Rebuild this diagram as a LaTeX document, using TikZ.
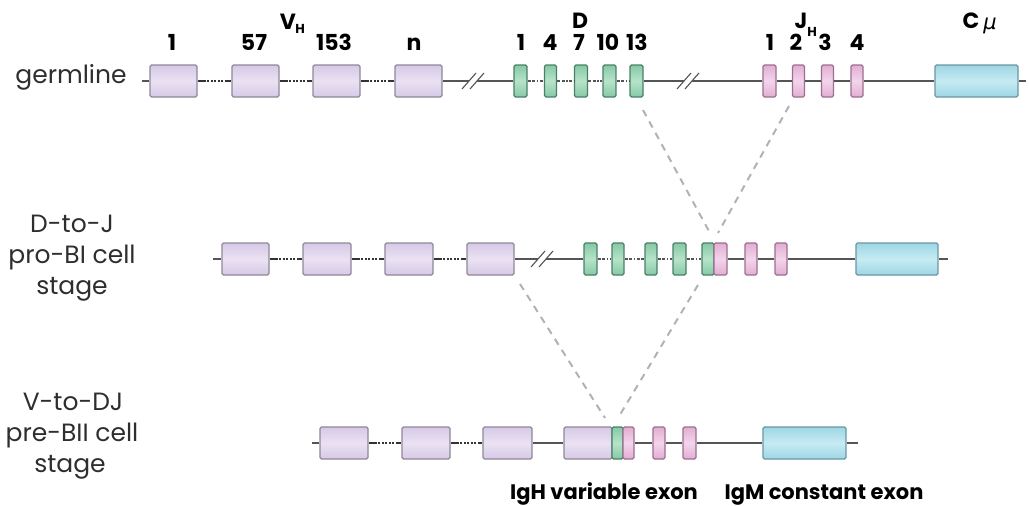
\documentclass[tikz,border=0pt]{standalone}
\usepackage{fontspec}
\setmainfont{Poppins}
\newfontfamily\dejavu{DejaVu Sans}
\usetikzlibrary{calc}
\definecolor{lavF}{HTML}{D6C9E6}\definecolor{lavM}{HTML}{EAE2F3}\definecolor{lavB}{HTML}{8F8799}
\definecolor{grnF}{HTML}{86C9A6}\definecolor{grnM}{HTML}{B6E3C9}\definecolor{grnB}{HTML}{4A7F68}
\definecolor{pnkF}{HTML}{E2AED3}\definecolor{pnkM}{HTML}{F3D4EA}\definecolor{pnkB}{HTML}{9B6F90}
\definecolor{bluF}{HTML}{9ED6E4}\definecolor{bluM}{HTML}{C6EBF3}\definecolor{bluB}{HTML}{6A97A3}
\definecolor{bbc}{HTML}{555555}
\definecolor{txt}{HTML}{2E2E2E}
\tikzset{
  gene/.style={rectangle, rounded corners=1.5pt, line width=1.1pt, inner sep=0pt, minimum height=32pt},
  vseg/.style={gene, draw=lavB, top color=lavF, bottom color=lavF, middle color=lavM},
  dseg/.style={gene, draw=grnB, top color=grnF, bottom color=grnF, middle color=grnM},
  jseg/.style={gene, draw=pnkB, top color=pnkF, bottom color=pnkF, middle color=pnkM},
  cseg/.style={gene, draw=bluB, top color=bluF, bottom color=bluF, middle color=bluM},
  bb/.style={draw=bbc, line width=1.1pt},
  vgap/.style={draw=black!80, line width=1.3pt, dash pattern=on 8pt off 1.5pt on 2pt off 1.5pt on 2pt off 1.5pt on 2pt off 1.5pt on 2pt off 1.5pt on 2pt off 1.5pt on 8pt},
  dgap/.style={bb, dash pattern=on 3pt off 1.5pt on 3pt off 1.5pt on 1.5pt off 1.5pt},
  guide/.style={draw=black!30, line width=2pt, dash pattern=on 7pt off 6pt},
  brk/.pic={\fill[white] (-11,8) -- (3,-8) -- (11,-8) -- (-3,8) -- cycle;
            \draw[bbc, line width=1.1pt] (-11,8) -- (3,-8) (-3,8) -- (11,-8);},
  stage/.style={anchor=base, font=\fontsize{25}{30}\selectfont, text=txt, inner sep=0pt},
  lbl/.style={anchor=base, font=\fontsize{22}{26}\selectfont\bfseries, inner sep=0pt},
  sub/.style={anchor=base, font=\fontsize{13}{15}\selectfont\bfseries, inner sep=0pt},
  blbl/.style={anchor=base, font=\fontsize{21}{25}\selectfont\bfseries, inner sep=0pt},
}
\newcommand\seg[5]{\node[#1, minimum width=#5pt] (#2) at (#3,#4) {};}
\begin{document}
\begin{tikzpicture}[x=1pt, y=-1pt]
\useasboundingbox (0,0) rectangle (1029,506);

% ---------------- row 1: germline ----------------
\coordinate (r1s) at (142,81);
\coordinate (r1e) at (1026,81);
\seg{vseg}{g1}{173.5}{81}{47}
\seg{vseg}{g2}{255.5}{81}{47}
\seg{vseg}{g3}{336.5}{81}{47}
\seg{vseg}{g4}{418.5}{81}{47}
\seg{dseg}{d1}{520.5}{81}{13}
\seg{dseg}{d2}{550.5}{81}{12}
\seg{dseg}{d3}{581}{81}{13}
\seg{dseg}{d4}{609.5}{81}{13}
\seg{dseg}{d5}{636.5}{81}{13}
\seg{jseg}{j1}{769.5}{81}{13}
\seg{jseg}{j2}{798.5}{81}{12}
\seg{jseg}{j3}{827.5}{81}{12}
\seg{jseg}{j4}{857}{81}{12}
\seg{cseg}{c1}{976.5}{81}{83}

% ---------------- row 2: D-to-J ----------------
\coordinate (r2s) at (213,259);
\coordinate (r2e) at (948,259);
\seg{vseg}{h1}{245.5}{259}{47}
\seg{vseg}{h2}{327}{259}{48}
\seg{vseg}{h3}{409}{259}{48}
\seg{vseg}{h4}{490.5}{259}{47}
\seg{dseg}{e1}{590.5}{259}{13}
\seg{dseg}{e2}{618}{259}{12}
\seg{dseg}{e3}{651}{259}{12}
\seg{dseg}{e4}{679.5}{259}{13}
\seg{dseg}{e5}{708}{259}{12}
\seg{jseg}{f1}{720.5}{259}{13}
\seg{jseg}{f2}{751}{259}{12}
\seg{jseg}{f3}{781}{259}{12}
\seg{cseg}{c2}{897}{259}{82}

% ---------------- row 3: V-to-DJ ----------------
\coordinate (r3s) at (312,443);
\coordinate (r3e) at (858,443);
\seg{vseg}{k1}{344}{443}{48}
\seg{vseg}{k2}{426}{443}{48}
\seg{vseg}{k3}{507.5}{443}{49}
\seg{vseg}{k4}{588}{443}{48}
\seg{dseg}{m1}{617.5}{443}{11}
\seg{jseg}{n1}{628.5}{443}{11}
\seg{jseg}{n2}{659}{443}{12}
\seg{jseg}{n3}{689.5}{443}{13}
\seg{cseg}{c3}{804.5}{443}{83}

% backbone lines
\draw[bb] (r1s) -- (g1.west);
\draw[vgap] (g1.east) -- (g2.west);
\draw[vgap] (g2.east) -- (g3.west);
\draw[vgap] (g3.east) -- (g4.west);
\draw[bb] (g4.east) -- (d1.west);
\draw[dgap] (d1.east) -- (d2.west);
\draw[dgap] (d2.east) -- (d3.west);
\draw[dgap] (d3.east) -- (d4.west);
\draw[dgap] (d4.east) -- (d5.west);
\draw[bb] (d5.east) -- (j1.west);
\draw[bb] (j1.east) -- (j2.west);
\draw[bb] (j2.east) -- (j3.west);
\draw[bb] (j3.east) -- (j4.west);
\draw[bb] (j4.east) -- (c1.west);
\draw[bb] (c1.east) -- (r1e);
\pic at (473,81) {brk};
\pic at (688,81) {brk};

\draw[bb] (r2s) -- (h1.west);
\draw[vgap] (h1.east) -- (h2.west);
\draw[vgap] (h2.east) -- (h3.west);
\draw[vgap] (h3.east) -- (h4.west);
\draw[bb] (h4.east) -- (e1.west);
\draw[dgap] (e1.east) -- (e2.west);
\draw[dgap] (e2.east) -- (e3.west);
\draw[dgap] (e3.east) -- (e4.west);
\draw[dgap] (e4.east) -- (e5.west);
\draw[bb] (f1.east) -- (f2.west);
\draw[bb] (f2.east) -- (f3.west);
\draw[bb] (f3.east) -- (c2.west);
\draw[bb] (c2.east) -- (r2e);
\pic at (542,259) {brk};

\draw[bb] (r3s) -- (k1.west);
\draw[vgap] (k1.east) -- (k2.west);
\draw[vgap] (k2.east) -- (k3.west);
\draw[bb] (k3.east) -- (k4.west);
\draw[bb] (n1.east) -- (n2.west);
\draw[bb] (n2.east) -- (n3.west);
\draw[bb] (n3.east) -- (c3.west);
\draw[bb] (c3.east) -- (r3e);

% dashed recombination guides
\coordinate (a1) at (643,110); \coordinate (a2) at (710,233);
\coordinate (b1) at (789,106); \coordinate (b2) at (718,233);
\coordinate (a3) at (520,284); \coordinate (a4) at (605,418);
\coordinate (b3) at (698,285); \coordinate (b4) at (618,418);
\draw[guide] (a1) -- (a2);
\draw[guide] (b1) -- (b2);
\draw[guide] (a3) -- (a4);
\draw[guide] (b3) -- (b4);

% ---------------- labels ----------------
\node[stage] (t1) at (71,83) {germline};
\node[stage] (t2a) at (72,232) {D-to-J};
\node[stage] (t2b) at (72,263) {pro-BI cell};
\node[stage] (t2c) at (72,294) {stage};
\node[stage] (t3a) at (73,410) {V-to-DJ};
\node[stage] (t3b) at (72,441) {pre-BII cell};
\node[stage] (t3c) at (70,472) {stage};

\node[lbl] (l1) at (172,50) {1};
\node[lbl] (l2) at (254,50) {57};
\node[lbl] (l3) at (334,50) {153};
\node[lbl] (l4) at (414,50) {n};
\node[lbl] (vh) at (288,30) {V};
\node[sub] (vhs) at (300,33) {H};

\node[lbl] (ld1) at (521,50) {1};
\node[lbl] (ld2) at (550,50) {4};
\node[lbl] (ld3) at (579,50) {7};
\node[lbl] (ld4) at (608,50) {10};
\node[lbl] (ld5) at (637,50) {13};
\node[lbl] (dl) at (580,28) {D};

\node[lbl] (lj1) at (770,50) {1};
\node[lbl] (lj2) at (796,50) {2};
\node[lbl] (lj3) at (825,50) {3};
\node[lbl] (lj4) at (857,50) {4};
\node[lbl] (jh) at (801,28) {J};
\node[sub] (jhs) at (812,36) {H};

\node[lbl] (cm) at (971,28) {C};
\node[anchor=base, inner sep=0pt, font=\fontsize{21}{25}\selectfont\dejavu\itshape] (mu) at (990,30) {μ};

\node[blbl] (ig1) at (604,499) {IgH variable exon};
\node[blbl] (ig2) at (824,499) {IgM constant exon};
\end{tikzpicture}
\end{document}
